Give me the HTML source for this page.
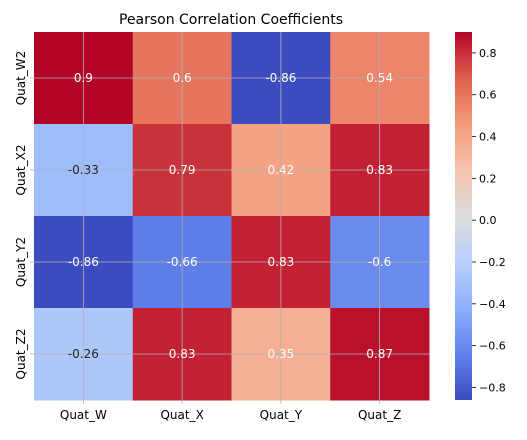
<!DOCTYPE html>
<html><head><meta charset="utf-8"><style>
body{margin:0;background:#fff;font-family:"Liberation Sans","DejaVu Sans",sans-serif;}
</style></head><body>
<svg id="chart" width="527" height="435" xmlns="http://www.w3.org/2000/svg" font-family="DejaVu Sans, Liberation Sans, sans-serif">
<rect width="527" height="435" fill="#fff"/>
<text x="231" y="24" text-anchor="middle" font-size="14" fill="#000">Pearson Correlation Coefficients</text>
<g id="cells"></g><g id="grid"></g><g id="labels"></g><g id="cbar"></g>
</svg>
<script>
const rowLabels=["Quat_W2","Quat_X2","Quat_Y2","Quat_Z2"];
const colLabels=["Quat_W","Quat_X","Quat_Y","Quat_Z"];
const values=[[0.9,0.6,-0.86,0.54],[-0.33,0.79,0.42,0.83],[-0.86,-0.66,0.83,-0.6],[-0.26,0.83,0.35,0.87]];
const cbarTicks=[0.8,0.6,0.4,0.2,0.0,-0.2,-0.4,-0.6,-0.8];
const vmin=-0.86,vmax=0.9;
const X0=34,X1=429,Y0=32,Y1=400;
const NS="http://www.w3.org/2000/svg";
const stops=[[59,76,192],[98,130,234],[141,176,254],[184,208,249],[221,221,221],[245,196,173],[244,154,123],[222,96,77],[180,4,38]];
function cmap(t){t=Math.max(0,Math.min(1,t));const p=t*8,i=Math.min(7,Math.floor(p)),f=p-i;return stops[i].map((c,k)=>Math.round(c+(stops[i+1][k]-c)*f));}
function norm(v){return (v-vmin)/(vmax-vmin);}
function mk(tag,attrs,parent){const e=document.createElementNS(NS,tag);for(const k in attrs)e.setAttribute(k,attrs[k]);document.getElementById(parent).appendChild(e);return e;}
const cw=(X1-X0)/colLabels.length,ch=(Y1-Y0)/rowLabels.length;
const xC=j=>X0+cw*(j+0.5),yC=i=>Y0+ch*(i+0.5);
values.forEach((row,i)=>row.forEach((v,j)=>{
 const c=cmap(norm(v));
 const r=mk('rect',{x:X0+cw*j,y:Y0+ch*i,width:cw+0.5,height:ch+0.5,fill:`rgb(${c})`},'cells');
 
 
}));
colLabels.forEach((l,j)=>{const g=mk('line',{x1:xC(j),x2:xC(j),y1:Y0,y2:Y1+4,stroke:'#b0b0b0','stroke-width':0.8},'grid');
 
 const t=mk('text',{x:xC(j),y:Y1+19,'text-anchor':'middle','font-size':12},'labels');t.textContent=l;
 });
rowLabels.forEach((l,i)=>{const g=mk('line',{x1:X0-4,x2:X1,y1:yC(i),y2:yC(i),stroke:'#b0b0b0','stroke-width':0.8},'grid');
 
 const t=mk('text',{x:0,y:0,'text-anchor':'middle','font-size':12,transform:`translate(${X0-9},${yC(i)}) rotate(-90)`},'labels');t.textContent=l;
 });
values.forEach((row,i)=>row.forEach((v,j)=>{
 const n=norm(v);
 const dark=(n>0.2&&n<0.5);
 const t=mk('text',{x:xC(j),y:yC(i)+4,'text-anchor':'middle','font-size':12,fill:dark?'#262626':'#fff'},'labels');
 t.textContent=String(v);
 
}));
const CX=455,CW=17;
const yS=v=>Y1-(v-vmin)/(vmax-vmin)*(Y1-Y0);
const defs=mk('defs',{},'cbar');
const lg=document.createElementNS(NS,'linearGradient');lg.setAttribute('id','cg');lg.setAttribute('x1','0');lg.setAttribute('y1','1');lg.setAttribute('x2','0');lg.setAttribute('y2','0');defs.appendChild(lg);
stops.forEach((s,k)=>{const st=document.createElementNS(NS,'stop');st.setAttribute('offset',k/8);st.setAttribute('stop-color',`rgb(${s})`);lg.appendChild(st);});
const cb=mk('rect',{x:CX,y:Y0,width:CW,height:Y1-Y0,fill:'url(#cg)'},'cbar');

cbarTicks.forEach(v=>{const y=yS(v);
 const l=mk('line',{x1:CX+CW,x2:CX+CW+4,y1:y,y2:y,stroke:'#000','stroke-width':0.8},'cbar');
 
 const t=mk('text',{x:CX+CW+7,y:y+4,'font-size':11},'cbar');t.textContent=(v<0?'\u2212':'')+Math.abs(v).toFixed(1);
 });
</script>
</body></html>
